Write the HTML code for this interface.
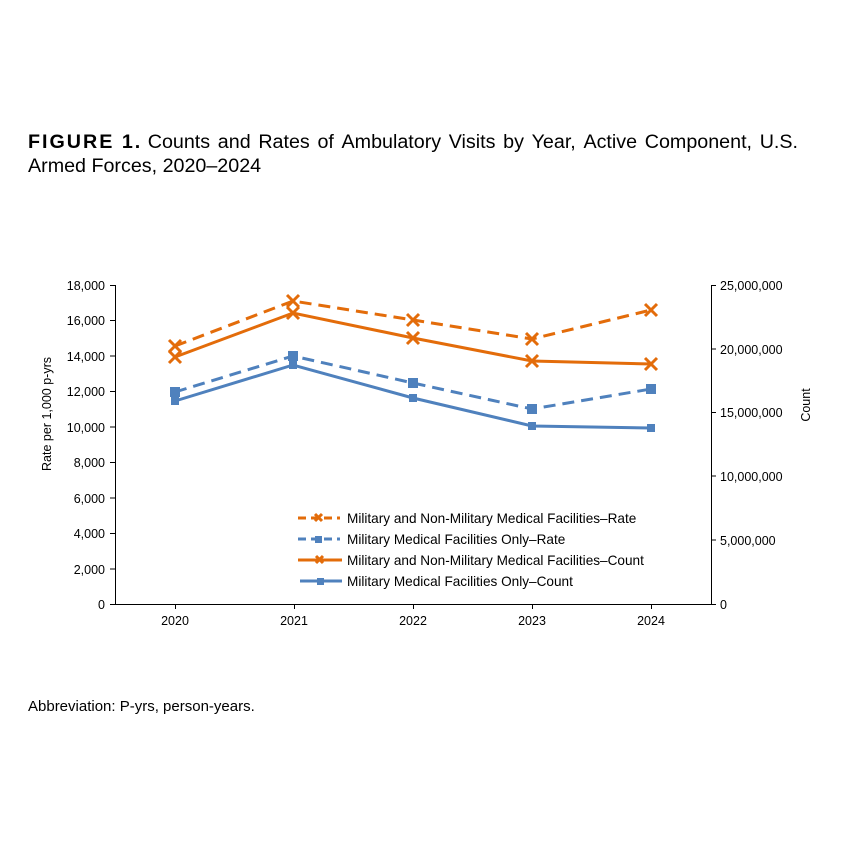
<!DOCTYPE html>
<html><head><meta charset="utf-8"><style>
body{margin:0;background:#fff;width:850px;height:844px;overflow:hidden;font-family:"Liberation Sans",Arial,sans-serif}
.t{position:absolute;left:28px;top:130px;width:770px;font-size:19.7px;line-height:24px;color:#000}
</style></head><body>
<div class="t"><div style="display:flex;justify-content:space-between;white-space:nowrap"><span><b style="font-family:'Liberation Sans Narrow','Liberation Sans',sans-serif;letter-spacing:2px">FIGURE 1.</b> Counts</span><span>and</span><span>Rates</span><span>of</span><span>Ambulatory</span><span>Visits</span><span>by</span><span>Year,</span><span>Active</span><span>Component,</span><span>U.S.</span></div>Armed Forces, 2020–2024</div>
<svg width="850" height="844" style="position:absolute;left:0;top:0" font-family="Liberation Sans, Arial, sans-serif" font-size="12.5">
<g stroke="#000" stroke-width="1" fill="none">
<path d="M115.5 285V604.5H711.5V285"/>
<path d="M110 285.5h5M110 320.5h5M110 356h5M110 391.5h5M110 427h5M110 462.5h5M110 498h5M110 533.5h5M110 569h5M110 604.5h5"/>
<path d="M711 285.5h5M711 349h5M711 412.5h5M711 476h5M711 540h5M711 604.5h5"/>
<path d="M175.5 604v5M294.5 604v5M413.5 604v5M532.5 604v5M651.5 604v5"/>
</g>
<g text-anchor="end">
<text x="105" y="290">18,000</text><text x="105" y="325">16,000</text><text x="105" y="361">14,000</text><text x="105" y="396">12,000</text><text x="105" y="432">10,000</text><text x="105" y="467">8,000</text><text x="105" y="503">6,000</text><text x="105" y="538">4,000</text><text x="105" y="574">2,000</text><text x="105" y="609">0</text>
</g>
<g>
<text x="720" y="290">25,000,000</text><text x="720" y="354">20,000,000</text><text x="720" y="417">15,000,000</text><text x="720" y="481">10,000,000</text><text x="720" y="545">5,000,000</text><text x="720" y="609">0</text>
</g>
<g text-anchor="middle">
<text x="175" y="625">2020</text><text x="294" y="625">2021</text><text x="413" y="625">2022</text><text x="532" y="625">2023</text><text x="651" y="625">2024</text>
</g>
<text transform="translate(51 414) rotate(-90)" text-anchor="middle">Rate per 1,000 p-yrs</text>
<text transform="translate(810 405) rotate(-90)" text-anchor="middle">Count</text>
<g fill="none" stroke-width="3">
<polyline stroke="#E36C0A" stroke-dasharray="12,7" points="175,346 293,301 413,320 532,339 651,310"/>
<polyline stroke="#E36C0A" points="175,357 293,313 413,338 532,361 651,364"/>
<polyline stroke="#4F81BD" stroke-dasharray="12,7" points="175,392 293,356 413,383 532,409 651,389"/>
<polyline stroke="#4F81BD" points="175,401 293,365 413,398 532,426 651,428"/>
</g>
<g stroke="#E36C0A" stroke-width="3">
<path d="M169 340l12 12M181 340l-12 12M287 295l12 12M299 295l-12 12M407 314l12 12M419 314l-12 12M526 333l12 12M538 333l-12 12M645 304l12 12M657 304l-12 12"/>
<path d="M169 351l12 12M181 351l-12 12M287 307l12 12M299 307l-12 12M407 332l12 12M419 332l-12 12M526 355l12 12M538 355l-12 12M645 358l12 12M657 358l-12 12"/>
</g>
<g fill="#4F81BD">
<rect x="170" y="387" width="10" height="10"/><rect x="288" y="351" width="10" height="10"/><rect x="408" y="378" width="10" height="10"/><rect x="527" y="404" width="10" height="10"/><rect x="646" y="384" width="10" height="10"/>
<rect x="171" y="397" width="8" height="8"/><rect x="289" y="361" width="8" height="8"/><rect x="409" y="394" width="8" height="8"/><rect x="528" y="422" width="8" height="8"/><rect x="647" y="424" width="8" height="8"/>
</g>
<g stroke-width="3">
<path stroke="#E36C0A" stroke-dasharray="8,5" d="M298 518h42"/><path stroke="#E36C0A" d="M315 514l7 7M322 514l-7 7"/>
<path stroke="#4F81BD" stroke-dasharray="8,5" d="M298 539h42"/><rect x="315" y="536" width="7" height="7" fill="#4F81BD" stroke="none"/>
<path stroke="#E36C0A" d="M298 560h44M316 556l7 7M323 556l-7 7"/>
<path stroke="#4F81BD" d="M300 581h42"/><rect x="317" y="578" width="7" height="7" fill="#4F81BD" stroke="none"/>
</g>
<g font-size="13.6">
<text x="347" y="523">Military and Non-Military Medical Facilities–Rate</text>
<text x="347" y="544">Military Medical Facilities Only–Rate</text>
<text x="347" y="565">Military and Non-Military Medical Facilities–Count</text>
<text x="347" y="586">Military Medical Facilities Only–Count</text>
</g>
<text x="28" y="711" font-size="15">Abbreviation: P-yrs, person-years.</text>
</svg>
</body></html>
